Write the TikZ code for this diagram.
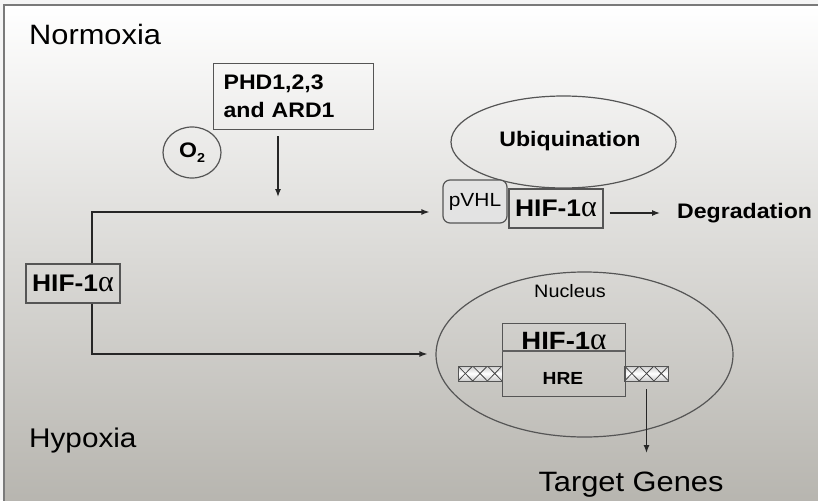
\documentclass[tikz,border=0pt]{standalone}
\usepackage{fontspec}
\usepackage{graphicx}
\setmainfont{Liberation Sans}[FakeStretch=1.1]
\newfontfamily\greekfont{Liberation Serif}
\usetikzlibrary{arrows.meta,shapes.geometric,calc}

\definecolor{edge}{HTML}{555555}
\definecolor{ink}{HTML}{262626}
\definecolor{bgbottom}{RGB}{182,180,174}
\definecolor{frameline}{HTML}{7A7A7A}

\newcommand\fsz[1]{\fontsize{#1}{#1}\selectfont}
\newcommand\halpha{\scalebox{1.25}{\greekfont\mdseries α}}

\begin{document}
\begin{tikzpicture}[x=1pt,y=-1pt,
  line/.style={draw=ink, line width=1.3pt},
  arr/.style={line, -{Latex[length=8pt,width=6pt]}},
  box/.style={draw=edge, line width=1.2pt, inner sep=0pt},
  txt/.style={inner sep=0pt, text=black},
  dna/.style={draw=edge, line width=0.8pt, inner sep=0pt,
    minimum width=44pt, minimum height=15pt,
    top color=gray!40, bottom color=gray!40, middle color=white,
    path picture={
      \foreach \i in {0,1,2}{
        \draw[gray!55!black, line width=0.8pt]
          ($(path picture bounding box.south west)+(\i*14.7pt,0pt)$) -- ++(14.7pt,15pt)
          ($(path picture bounding box.north west)+(\i*14.7pt,0pt)$) -- ++(14.7pt,-15pt);
      }}},
]
\useasboundingbox (0,0) rectangle (818,500);

% background panel with vertical gradient and frame
\fill[gray!8] (0,0) rectangle (818,500);
\shade[top color=white, bottom color=bgbottom] (4,5) rectangle (830,510);
\draw[frameline, line width=1.5pt] (4,510) -- (4,5) -- (830,5);

% condition labels
\node[txt, anchor=base west, font=\fsz{28}] (normoxia) at (29,45) {Normoxia};
\node[txt, anchor=base west, font=\fsz{27}] (hypoxia) at (29,447) {Hypoxia};

% hydroxylases and oxygen
\node[box, anchor=north west, minimum width=160pt, minimum height=66pt,
      align=left, text width=140pt, inner xsep=10pt,
      font=\bfseries\fontsize{21}{28}\selectfont] (phd) at (213,63) {PHD1,2,3\\and ARD1};
\node[box, ellipse, minimum width=58pt, minimum height=51pt,
      font=\bfseries\fsz{21}] (o2) at (192,152.5) {O\raisebox{-5pt}{\fsz{13}2}};
\coordinate (phdtip) at (278,197);
\draw[arr] ($(phd.south west)+(65pt,-6pt)$) -- (phdtip);

% degradation pathway
\node[box, ellipse, minimum width=225pt, minimum height=92pt] (ubi) at (563.5,142) {};
\node[txt, font=\bfseries\fsz{21}] (ubitext) at (570,141) {Ubiquination};
\node[box, rounded corners=7pt, minimum width=64pt, minimum height=43pt,
      fill=white!89!black, font=\fsz{19}] (pvhl) at (475,201.5) {pVHL};
\node[box, minimum width=94pt, minimum height=39pt,
      font=\bfseries\fsz{24}] (hifr) at (556,208.5) {HIF-1\halpha};
\node[txt, anchor=base west, font=\bfseries\fsz{21}] (degr) at (677,218) {Degradation};
\coordinate (dstart) at ($(hifr.east)+(6pt,-4.5pt)$);
\draw[arr, shorten >=17pt] (dstart) -- (dstart -| degr.west);

% free HIF-1 alpha and its two routes
\node[box, minimum width=94pt, minimum height=39pt,
      font=\bfseries\fsz{24}] (hifl) at (73,283.5) {HIF-1\halpha};
\coordinate (up) at (92,212);
\coordinate (down) at (92,354);
\draw[arr, shorten >=13pt] (hifl.north -| up) -- (up) -- (up -| pvhl.west);

% nucleus with HIF-1 alpha bound to the HRE
\node[box, ellipse, minimum width=297pt, minimum height=165pt] (nucleus) at (584.5,354.5) {};
\node[txt, anchor=base, font=\fsz{18}] (nuctext) at (570,297) {Nucleus};
\draw[arr, shorten >=8pt] (hifl.south -| down) -- (down) -- (down -| nucleus.west);

\node[dna] (dnaL) at (480,373.5) {};
\node[dna] (dnaR) at (646.5,373.5) {};
\node[box, anchor=north west, minimum width=123pt, minimum height=73pt] (hre) at (502,323) {};
\draw[draw=gray!75!black, line width=1.1pt] ($(hre.north west)+(0pt,-28pt)$) -- ($(hre.north east)+(0pt,-28pt)$);
\node[txt, anchor=base, font=\bfseries\fsz{25}] (hifn) at (564,349) {HIF-1\halpha};
\node[txt, anchor=base, font=\bfseries\fsz{17.5}] (hretext) at (563,384.5) {HRE};

% transcription
\coordinate (tgtip) at (646.5,453);
\draw[arr] ($(dnaR.south)+(0pt,-8pt)$) -- (tgtip);
\node[txt, anchor=base, font=\fsz{28}] (target) at (631,491) {Target Genes};
\end{tikzpicture}
\end{document}
